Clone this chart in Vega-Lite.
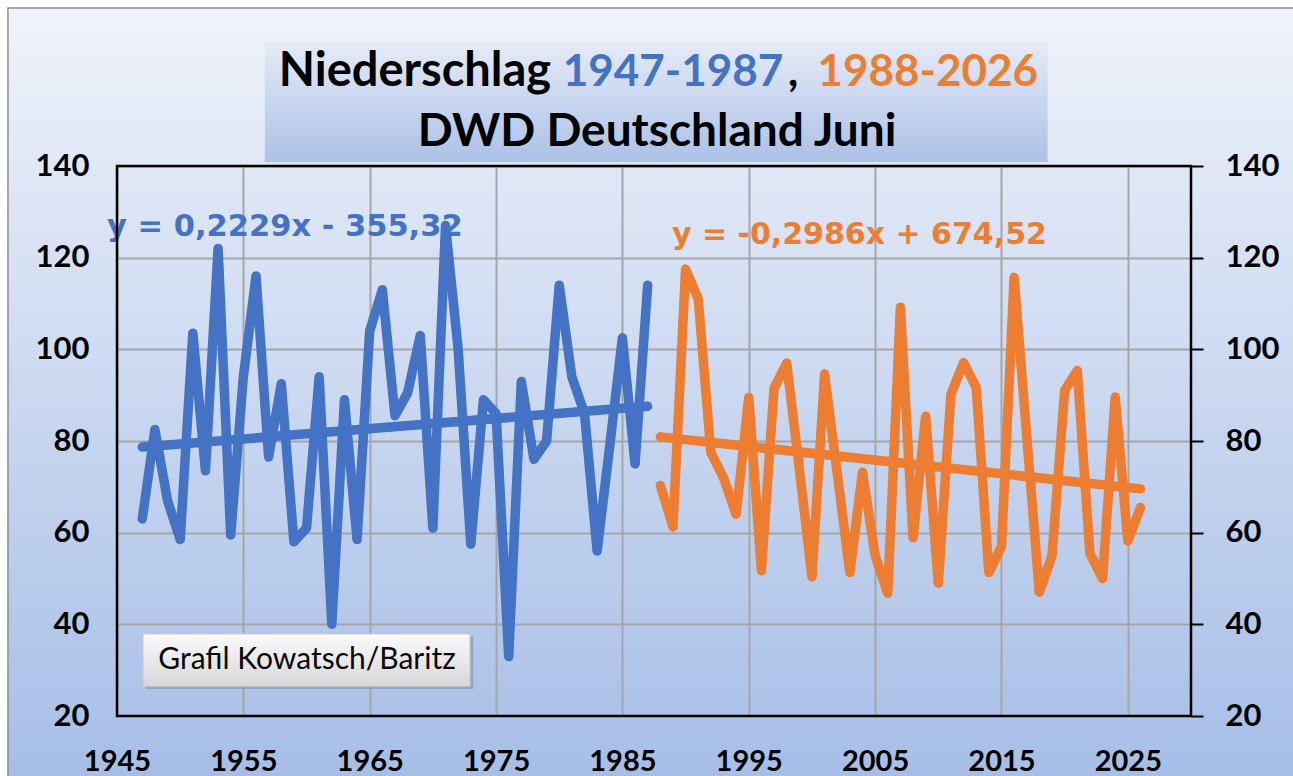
{
  "$schema": "https://vega.github.io/schema/vega-lite/v6.json",
  "width": 1074,
  "height": 550,
  "autosize": {"type": "none"},
  "padding": {"left": 117, "top": 166, "right": 102, "bottom": 60},
  "background": "#ffffff",
  "config": {
    "view": {"stroke": null, "fill": {"gradient": "linear", "x1": 0, "y1": 0, "x2": 0, "y2": 1, "stops": [{"offset": 0, "color": "#e0e8f6"}, {"offset": 1, "color": "#acc2e8"}]}},
    "axis": {"title": null, "labelFont": "Lato", "labelFontWeight": "bold", "labelFontSize": 31, "labelColor": "#000000", "domain": false, "ticks": false, "grid": false, "gridColor": "#a5a5a5", "gridWidth": 2, "gridOpacity": 1}
  },
  "datasets": {
    "rain": [
      {"year": 1947, "mm": 63, "period": "1947-1987"},
      {"year": 1948, "mm": 82.5, "period": "1947-1987"},
      {"year": 1949, "mm": 67, "period": "1947-1987"},
      {"year": 1950, "mm": 58.5, "period": "1947-1987"},
      {"year": 1951, "mm": 103.5, "period": "1947-1987"},
      {"year": 1952, "mm": 73.5, "period": "1947-1987"},
      {"year": 1953, "mm": 122, "period": "1947-1987"},
      {"year": 1954, "mm": 59.5, "period": "1947-1987"},
      {"year": 1955, "mm": 94, "period": "1947-1987"},
      {"year": 1956, "mm": 116, "period": "1947-1987"},
      {"year": 1957, "mm": 76.5, "period": "1947-1987"},
      {"year": 1958, "mm": 92.5, "period": "1947-1987"},
      {"year": 1959, "mm": 58, "period": "1947-1987"},
      {"year": 1960, "mm": 61, "period": "1947-1987"},
      {"year": 1961, "mm": 94, "period": "1947-1987"},
      {"year": 1962, "mm": 40, "period": "1947-1987"},
      {"year": 1963, "mm": 89, "period": "1947-1987"},
      {"year": 1964, "mm": 58.5, "period": "1947-1987"},
      {"year": 1965, "mm": 104, "period": "1947-1987"},
      {"year": 1966, "mm": 113, "period": "1947-1987"},
      {"year": 1967, "mm": 85.5, "period": "1947-1987"},
      {"year": 1968, "mm": 90.5, "period": "1947-1987"},
      {"year": 1969, "mm": 103, "period": "1947-1987"},
      {"year": 1970, "mm": 61, "period": "1947-1987"},
      {"year": 1971, "mm": 127, "period": "1947-1987"},
      {"year": 1972, "mm": 100, "period": "1947-1987"},
      {"year": 1973, "mm": 57.5, "period": "1947-1987"},
      {"year": 1974, "mm": 89, "period": "1947-1987"},
      {"year": 1975, "mm": 86, "period": "1947-1987"},
      {"year": 1976, "mm": 33, "period": "1947-1987"},
      {"year": 1977, "mm": 93, "period": "1947-1987"},
      {"year": 1978, "mm": 76, "period": "1947-1987"},
      {"year": 1979, "mm": 80, "period": "1947-1987"},
      {"year": 1980, "mm": 114, "period": "1947-1987"},
      {"year": 1981, "mm": 94, "period": "1947-1987"},
      {"year": 1982, "mm": 86, "period": "1947-1987"},
      {"year": 1983, "mm": 56, "period": "1947-1987"},
      {"year": 1984, "mm": 79, "period": "1947-1987"},
      {"year": 1985, "mm": 102.5, "period": "1947-1987"},
      {"year": 1986, "mm": 75, "period": "1947-1987"},
      {"year": 1987, "mm": 114, "period": "1947-1987"},
      {"year": 1988, "mm": 70.3, "period": "1988-2026"},
      {"year": 1989, "mm": 61.3, "period": "1988-2026"},
      {"year": 1990, "mm": 117.5, "period": "1988-2026"},
      {"year": 1991, "mm": 111, "period": "1988-2026"},
      {"year": 1992, "mm": 77.5, "period": "1988-2026"},
      {"year": 1993, "mm": 72, "period": "1988-2026"},
      {"year": 1994, "mm": 64, "period": "1988-2026"},
      {"year": 1995, "mm": 89.5, "period": "1988-2026"},
      {"year": 1996, "mm": 51.7, "period": "1988-2026"},
      {"year": 1997, "mm": 91.5, "period": "1988-2026"},
      {"year": 1998, "mm": 97, "period": "1988-2026"},
      {"year": 1999, "mm": 74, "period": "1988-2026"},
      {"year": 2000, "mm": 50.4, "period": "1988-2026"},
      {"year": 2001, "mm": 94.6, "period": "1988-2026"},
      {"year": 2002, "mm": 73, "period": "1988-2026"},
      {"year": 2003, "mm": 51.3, "period": "1988-2026"},
      {"year": 2004, "mm": 73.2, "period": "1988-2026"},
      {"year": 2005, "mm": 55, "period": "1988-2026"},
      {"year": 2006, "mm": 46.8, "period": "1988-2026"},
      {"year": 2007, "mm": 109.2, "period": "1988-2026"},
      {"year": 2008, "mm": 58.9, "period": "1988-2026"},
      {"year": 2009, "mm": 85.4, "period": "1988-2026"},
      {"year": 2010, "mm": 49, "period": "1988-2026"},
      {"year": 2011, "mm": 90.2, "period": "1988-2026"},
      {"year": 2012, "mm": 97.1, "period": "1988-2026"},
      {"year": 2013, "mm": 91.7, "period": "1988-2026"},
      {"year": 2014, "mm": 51.3, "period": "1988-2026"},
      {"year": 2015, "mm": 57, "period": "1988-2026"},
      {"year": 2016, "mm": 115.7, "period": "1988-2026"},
      {"year": 2017, "mm": 81, "period": "1988-2026"},
      {"year": 2018, "mm": 47, "period": "1988-2026"},
      {"year": 2019, "mm": 55, "period": "1988-2026"},
      {"year": 2020, "mm": 91, "period": "1988-2026"},
      {"year": 2021, "mm": 95.4, "period": "1988-2026"},
      {"year": 2022, "mm": 55.5, "period": "1988-2026"},
      {"year": 2023, "mm": 50, "period": "1988-2026"},
      {"year": 2024, "mm": 89.6, "period": "1988-2026"},
      {"year": 2025, "mm": 58.2, "period": "1988-2026"},
      {"year": 2026, "mm": 65.5, "period": "1988-2026"}
    ],
    "trend": [
      {"year": 1947, "mm": 78.67, "period": "1947-1987"},
      {"year": 1987, "mm": 87.58, "period": "1947-1987"},
      {"year": 1988, "mm": 80.9, "period": "1988-2026"},
      {"year": 2026, "mm": 69.56, "period": "1988-2026"}
    ]
  },
  "resolve": {"axis": {"x": "independent", "y": "independent"}},
  "layer": [
    {
      "data": {"values": [{}]},
      "mark": {"type": "rect", "stroke": null, "fill": {"gradient": "linear", "x1": 0, "y1": 0, "x2": 0, "y2": 1, "stops": [{"offset": 0, "color": "#f0f3fa"}, {"offset": 1, "color": "#e0e8f6"}]}},
      "encoding": {"x": {"datum": 1936.37, "type": "quantitative", "axis": null}, "x2": {"datum": 2040}, "y": {"datum": 174.47, "type": "quantitative", "axis": null}, "y2": {"datum": 140}}
    },
    {
      "data": {"values": [{}]},
      "mark": {"type": "rect", "stroke": null, "fill": {"gradient": "linear", "x1": 0, "y1": 0, "x2": 0, "y2": 1, "stops": [{"offset": 0, "color": "#acc2e8"}, {"offset": 1, "color": "#a6bee6"}]}},
      "encoding": {"x": {"datum": 1936.37, "type": "quantitative", "axis": null}, "x2": {"datum": 2040}, "y": {"datum": 20, "type": "quantitative", "axis": null}, "y2": {"datum": 6.5}}
    },
    {
      "data": {"values": [{}]},
      "mark": {"type": "rect", "stroke": null, "fill": {"gradient": "linear", "x1": 0, "y1": 0, "x2": 0, "y2": 1, "stops": [{"offset": 0, "color": "#e0e8f6"}, {"offset": 1, "color": "#acc2e8"}]}},
      "encoding": {"x": {"datum": 1936.37, "type": "quantitative", "axis": null}, "x2": {"datum": 1945}, "y": {"datum": 140, "type": "quantitative", "axis": null}, "y2": {"datum": 20}}
    },
    {
      "data": {"values": [{}]},
      "mark": {"type": "rect", "stroke": null, "fill": {"gradient": "linear", "x1": 0, "y1": 0, "x2": 0, "y2": 1, "stops": [{"offset": 0, "color": "#e0e8f6"}, {"offset": 1, "color": "#acc2e8"}]}},
      "encoding": {"x": {"datum": 2030, "type": "quantitative", "axis": null}, "x2": {"datum": 2040}, "y": {"datum": 140, "type": "quantitative", "axis": null}, "y2": {"datum": 20}}
    },
    {
      "data": {"values": [{}]},
      "mark": {"type": "rect", "fill": null, "stroke": "#8c8c8c", "strokeWidth": 1.5},
      "encoding": {"x": {"datum": 1936.37, "type": "quantitative", "axis": null}, "x2": {"datum": 2040}, "y": {"datum": 174.47, "type": "quantitative", "axis": null}, "y2": {"datum": 6.5}}
    },
    {
      "data": {"values": [{}]},
      "mark": {"type": "rect", "stroke": null, "fill": {"gradient": "linear", "x1": 0, "y1": 0, "x2": 0, "y2": 1, "stops": [{"offset": 0, "color": "#e6ebf6"}, {"offset": 1, "color": "#abc1e7"}]}},
      "encoding": {"x": {"datum": 1956.7, "type": "quantitative", "axis": null}, "x2": {"datum": 2018.65}, "y": {"datum": 167.1, "type": "quantitative", "axis": null}, "y2": {"datum": 140.9}}
    },
    {
      "data": {"values": [{}]},
      "mark": {"type": "text", "text": "Niederschlag", "align": "left", "baseline": "alphabetic", "font": "Lato", "fontSize": 47, "fontWeight": "bold", "color": "#000000"},
      "encoding": {"x": {"datum": 1957.81, "type": "quantitative", "axis": null}, "y": {"datum": 157.45, "type": "quantitative", "axis": null}}
    },
    {
      "data": {"values": [{}]},
      "mark": {"type": "text", "text": "1947-1987", "align": "left", "baseline": "alphabetic", "font": "Lato", "fontSize": 44, "fontWeight": "bold", "color": "#4472C4"},
      "encoding": {"x": {"datum": 1980.28, "type": "quantitative", "axis": null}, "y": {"datum": 157.45, "type": "quantitative", "axis": null}}
    },
    {
      "data": {"values": [{}]},
      "mark": {"type": "text", "text": ",", "align": "left", "baseline": "alphabetic", "font": "Lato", "fontSize": 44, "fontWeight": "bold", "color": "#000000"},
      "encoding": {"x": {"datum": 1998.1, "type": "quantitative", "axis": null}, "y": {"datum": 157.45, "type": "quantitative", "axis": null}}
    },
    {
      "data": {"values": [{}]},
      "mark": {"type": "text", "text": "1988-2026", "align": "left", "baseline": "alphabetic", "font": "Lato", "fontSize": 44, "fontWeight": "bold", "color": "#ED7D31"},
      "encoding": {"x": {"datum": 2000.44, "type": "quantitative", "axis": null}, "y": {"datum": 157.45, "type": "quantitative", "axis": null}}
    },
    {
      "data": {"values": [{}]},
      "mark": {"type": "text", "text": "DWD Deutschland Juni", "align": "center", "baseline": "alphabetic", "font": "Lato", "fontSize": 46, "fontWeight": "bold", "color": "#000000"},
      "encoding": {"x": {"datum": 1987.74, "type": "quantitative", "axis": null}, "y": {"datum": 144.36, "type": "quantitative", "axis": null}}
    },
    {
      "data": {"name": "rain"},
      "transform": [{"filter": "datum.period === '1947-1987'"}],
      "mark": {"type": "line", "color": "#4472C4", "strokeWidth": 9.5, "strokeJoin": "round", "strokeCap": "round"},
      "encoding": {
        "x": {"field": "year", "type": "quantitative", "scale": {"domain": [1945, 2030], "nice": false, "zero": false}, "axis": {"orient": "bottom", "grid": true, "labels": false, "ticks": false, "domain": false, "values": [1945, 1955, 1965, 1975, 1985, 1995, 2005, 2015, 2025], "zindex": 0, "maxExtent": 0, "minExtent": 0}},
        "y": {"field": "mm", "type": "quantitative", "scale": {"domain": [20, 140], "nice": false, "zero": false}, "axis": {"orient": "left", "grid": true, "labels": false, "ticks": false, "domain": false, "values": [20, 40, 60, 80, 100, 120, 140], "zindex": 0, "maxExtent": 0, "minExtent": 0}}
      }
    },
    {
      "data": {"name": "rain"},
      "transform": [{"filter": "datum.period === '1988-2026'"}],
      "mark": {"type": "line", "color": "#ED7D31", "strokeWidth": 9.5, "strokeJoin": "round", "strokeCap": "round"},
      "encoding": {
        "x": {"field": "year", "type": "quantitative", "axis": null},
        "y": {"field": "mm", "type": "quantitative", "axis": {"orient": "right", "grid": false, "labels": true, "ticks": true, "tickSize": 12, "tickColor": "#000000", "tickWidth": 2, "domain": false, "labelAlign": "left", "labelPadding": 22, "values": [20, 40, 60, 80, 100, 120, 140], "zindex": 1}}
      }
    },
    {
      "data": {"name": "trend"},
      "mark": {"type": "line", "strokeWidth": 9.5, "strokeCap": "round"},
      "encoding": {
        "x": {"field": "year", "type": "quantitative", "axis": {"orient": "bottom", "grid": false, "labels": true, "format": "d", "labelFontSize": 29, "labelFlush": false, "labelOverlap": false, "labelPadding": 31, "values": [1945, 1955, 1965, 1975, 1985, 1995, 2005, 2015, 2025], "zindex": 1}},
        "y": {"field": "mm", "type": "quantitative", "axis": {"orient": "left", "grid": false, "labels": true, "labelPadding": 28, "values": [20, 40, 60, 80, 100, 120, 140], "zindex": 1}},
        "color": {"field": "period", "type": "nominal", "scale": {"domain": ["1947-1987", "1988-2026"], "range": ["#4472C4", "#ED7D31"]}, "legend": null}
      }
    },
    {
      "data": {"values": [{}]},
      "mark": {"type": "rect", "stroke": null, "fill": "#6f82a3", "opacity": 0.45},
      "encoding": {"x": {"datum": 1947.3, "type": "quantitative", "axis": null}, "x2": {"datum": 1973.2}, "y": {"datum": 37.3, "type": "quantitative", "axis": null}, "y2": {"datum": 25.9}}
    },
    {
      "data": {"values": [{}]},
      "mark": {"type": "rect", "stroke": "#c9c9c9", "strokeWidth": 1, "fill": {"gradient": "linear", "x1": 0, "y1": 0, "x2": 0, "y2": 1, "stops": [{"offset": 0, "color": "#fbfbfb"}, {"offset": 1, "color": "#d7d7d7"}]}},
      "encoding": {"x": {"datum": 1947.06, "type": "quantitative", "axis": null}, "x2": {"datum": 1972.94}, "y": {"datum": 37.9, "type": "quantitative", "axis": null}, "y2": {"datum": 26.5}}
    },
    {
      "data": {"values": [{}]},
      "mark": {"type": "text", "text": "Grafil Kowatsch/Baritz", "align": "center", "baseline": "middle", "font": "Lato", "fontSize": 30, "fontWeight": "normal", "color": "#0a0a0a"},
      "encoding": {"x": {"datum": 1960.04, "type": "quantitative", "axis": null}, "y": {"datum": 32.2, "type": "quantitative", "axis": null}}
    },
    {
      "data": {"values": [{}]},
      "mark": {"type": "text", "text": "y = 0,2229x - 355,32", "align": "left", "baseline": "alphabetic", "font": "DejaVu Sans", "fontSize": 30.5, "fontWeight": "bold", "color": "#4472C4"},
      "encoding": {"x": {"datum": 1944.21, "type": "quantitative", "axis": null}, "y": {"datum": 124.73, "type": "quantitative", "axis": null}}
    },
    {
      "data": {"values": [{}]},
      "mark": {"type": "text", "text": "y = -0,2986x + 674,52", "align": "left", "baseline": "alphabetic", "font": "DejaVu Sans", "fontSize": 30, "fontWeight": "bold", "color": "#ED7D31"},
      "encoding": {"x": {"datum": 1988.92, "type": "quantitative", "axis": null}, "y": {"datum": 123.07, "type": "quantitative", "axis": null}}
    },
    {
      "data": {"values": [{}]},
      "mark": {"type": "rect", "fill": null, "stroke": "#000000", "strokeWidth": 2.5},
      "encoding": {"x": {"datum": 1945, "type": "quantitative", "axis": null}, "x2": {"datum": 2030}, "y": {"datum": 140, "type": "quantitative", "axis": null}, "y2": {"datum": 20}}
    }
  ]
}
